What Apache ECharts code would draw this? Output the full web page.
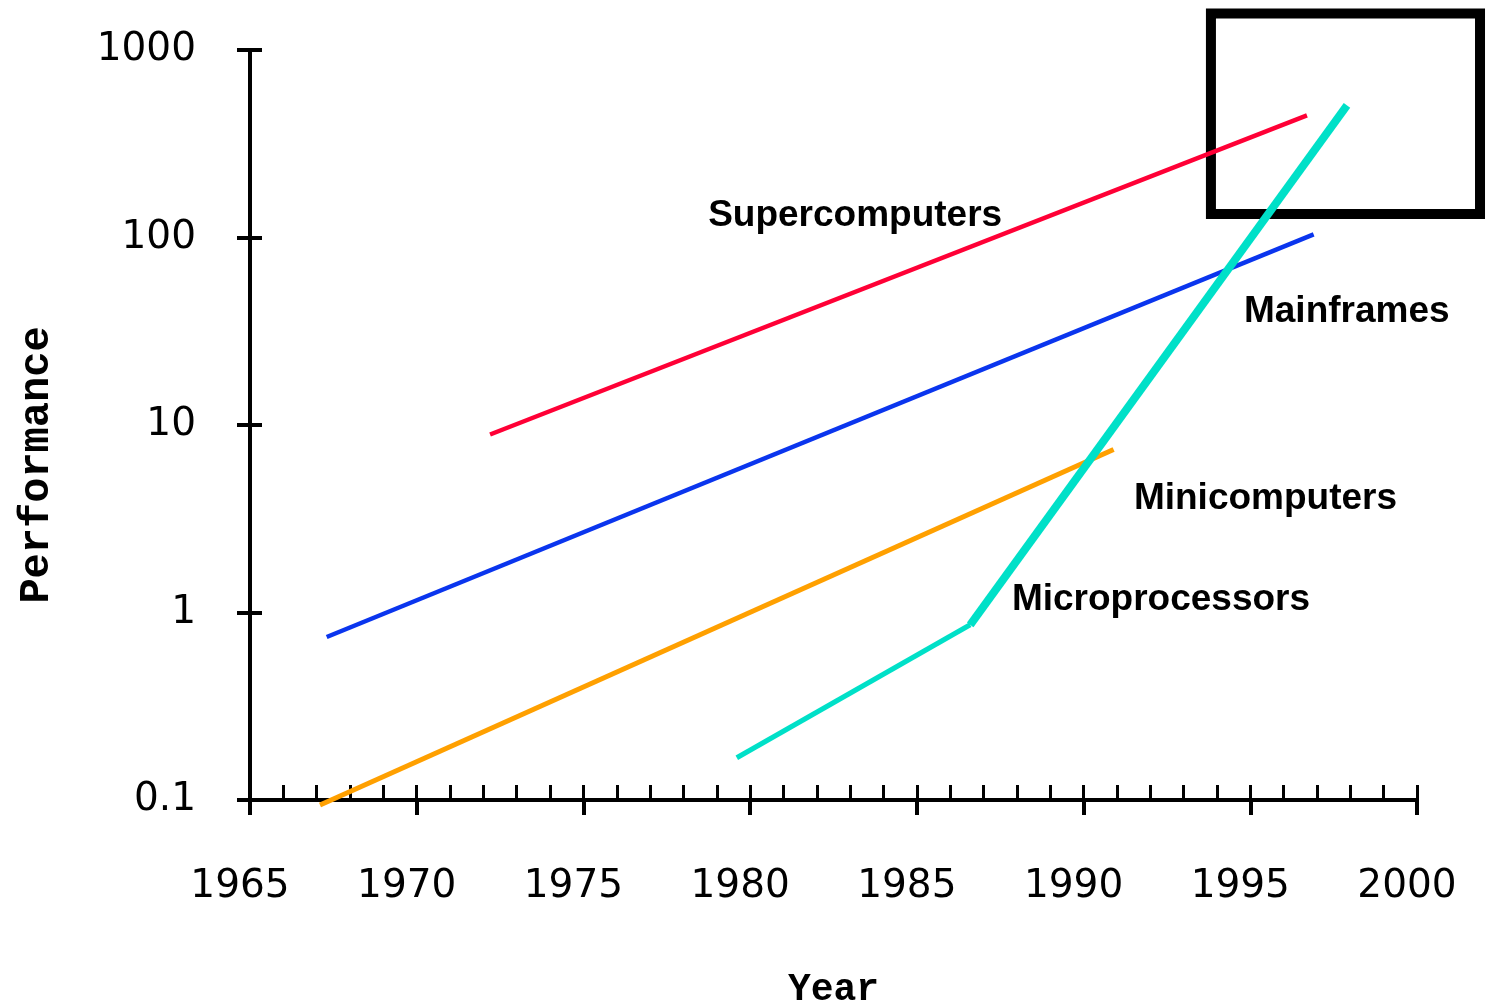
<!DOCTYPE html>
<html>
<head>
<meta charset="utf-8">
<script src="https://cdn.jsdelivr.net/npm/echarts@6/dist/echarts.min.js"></script>
<style>
  html, body { margin: 0; padding: 0; background: #fff; }
  #chart { width: 1492px; height: 1008px; }
</style>
</head>
<body>
<div id="chart"></div>
<script>
// Performance trends of computer classes (log scale), [year, performance]
const supercomputers = [[1972.2, 8.9], [1996.7, 448]];
const mainframes = [[1967.3, 0.74], [1996.9, 104]];
const minicomputers = [[1967.1, 0.094], [1990.9, 7.4]];
const microEarly = [[1979.6, 0.168], [1986.6, 0.86]];
const microLate = [[1986.6, 0.86], [1997.9, 506]];

const xTicks = [1965, 1970, 1975, 1980, 1985, 1990, 1995, 2000];
const yTicks = ['0.1', '1', '10', '100', '1000'];

// Series name labels: [text, year, performance at the label's left-middle]
const seriesLabels = [
  ['Supercomputers', 1978.74, 130],
  ['Mainframes', 1994.81, 40],
  ['Minicomputers', 1991.51, 4.03],
  ['Microprocessors', 1987.85, 1.17]
];

// Highlighted region: [year, performance] corners
const highlightBox = [[1993.82, 1566], [2001.89, 133.4]];

const chart = echarts.init(document.getElementById('chart'));

const tickFont = { fontFamily: 'DejaVu Sans', fontSize: 39, fontWeight: 'normal', color: '#000' };
const titleFont = { fontFamily: 'Liberation Mono', fontWeight: 'bold', color: '#000' };

function lineSeries(name, data, color, width) {
  return {
    name: name,
    type: 'line',
    data: data,
    xAxisIndex: 0,
    yAxisIndex: 0,
    symbol: 'none',
    clip: false,
    silent: true,
    lineStyle: { color: color, width: width, cap: 'butt' }
  };
}

chart.setOption({
  animation: false,
  backgroundColor: '#fff',
  grid: { left: 250, right: 75, top: 50, bottom: 208, containLabel: false, outerBoundsMode: 'none' },
  xAxis: [
    {
      type: 'value', min: 1965, max: 2000, interval: 5, position: 'bottom',
      name: 'Year', nameLocation: 'middle', nameGap: 171, nameMoveOverlap: false,
      nameTextStyle: Object.assign({ fontSize: 38 }, titleFont),
      axisLine: { show: true, lineStyle: { color: '#000', width: 4 } },
      axisTick: { show: true, inside: false, length: 15, lineStyle: { color: '#000', width: 4 } },
      axisLabel: Object.assign({
        margin: 67,
        padding: [0, 20, 0, 0],
        formatter: v => xTicks.includes(v) ? String(v) : ''
      }, tickFont),
      splitLine: { show: false }
    },
    {
      type: 'value', min: 1965, max: 2000, interval: 1, position: 'bottom',
      axisLine: { show: false },
      axisTick: { show: true, inside: true, length: 15, lineStyle: { color: '#000', width: 3 } },
      axisLabel: { show: false },
      splitLine: { show: false }
    }
  ],
  yAxis: [
    {
      type: 'log', logBase: 10, min: 0.1, max: 1000, position: 'left',
      name: 'Performance', nameLocation: 'middle', nameGap: 192, nameRotate: 90, nameMoveOverlap: false,
      nameTextStyle: Object.assign({ fontSize: 42, padding: [0, 80, 0, 0] }, titleFont),
      axisLine: { show: true, lineStyle: { color: '#000', width: 4 } },
      axisTick: { show: true, inside: false, length: 13, lineStyle: { color: '#000', width: 4 } },
      axisLabel: Object.assign({
        margin: 54,
        padding: [8, 0, 0, 0],
        formatter: v => {
          const s = String(+v.toPrecision(6));
          return yTicks.includes(s) ? s : '';
        }
      }, tickFont),
      splitLine: { show: false }
    },
    {
      type: 'log', logBase: 10, min: 0.1, max: 1000, position: 'left',
      axisLine: { show: false },
      axisTick: { show: true, inside: true, length: 12, lineStyle: { color: '#000', width: 4 } },
      axisLabel: { show: false },
      splitLine: { show: false }
    }
  ],
  series: [
    lineSeries('Supercomputers', supercomputers, '#ff0036', 4.5),
    lineSeries('Mainframes', mainframes, '#0a35ee', 4.5),
    lineSeries('Minicomputers', minicomputers, '#ffa000', 5),
    lineSeries('Microprocessors', microEarly, '#00e0c8', 5),
    lineSeries('Microprocessors', microLate, '#00e0c8', 8)
  ]
});

// Annotations placed through the chart's own coordinate conversion
const toPx = p => chart.convertToPixel({ xAxisIndex: 0, yAxisIndex: 0 }, p);
const graphics = seriesLabels.map(([text, x, y]) => {
  const p = toPx([x, y]);
  return {
    type: 'text', x: p[0], y: p[1], silent: true,
    style: {
      text: text, fill: '#000',
      font: 'bold 37px "Liberation Sans", Arial, sans-serif',
      textAlign: 'left', textVerticalAlign: 'middle'
    }
  };
});
const b0 = toPx(highlightBox[0]);
const b1 = toPx(highlightBox[1]);
graphics.push({
  type: 'rect', silent: true,
  shape: { x: b0[0], y: b0[1], width: b1[0] - b0[0], height: b1[1] - b0[1] },
  style: { fill: 'none', stroke: '#000', lineWidth: 10 }
});
chart.setOption({ graphic: graphics });
</script>
</body>
</html>
